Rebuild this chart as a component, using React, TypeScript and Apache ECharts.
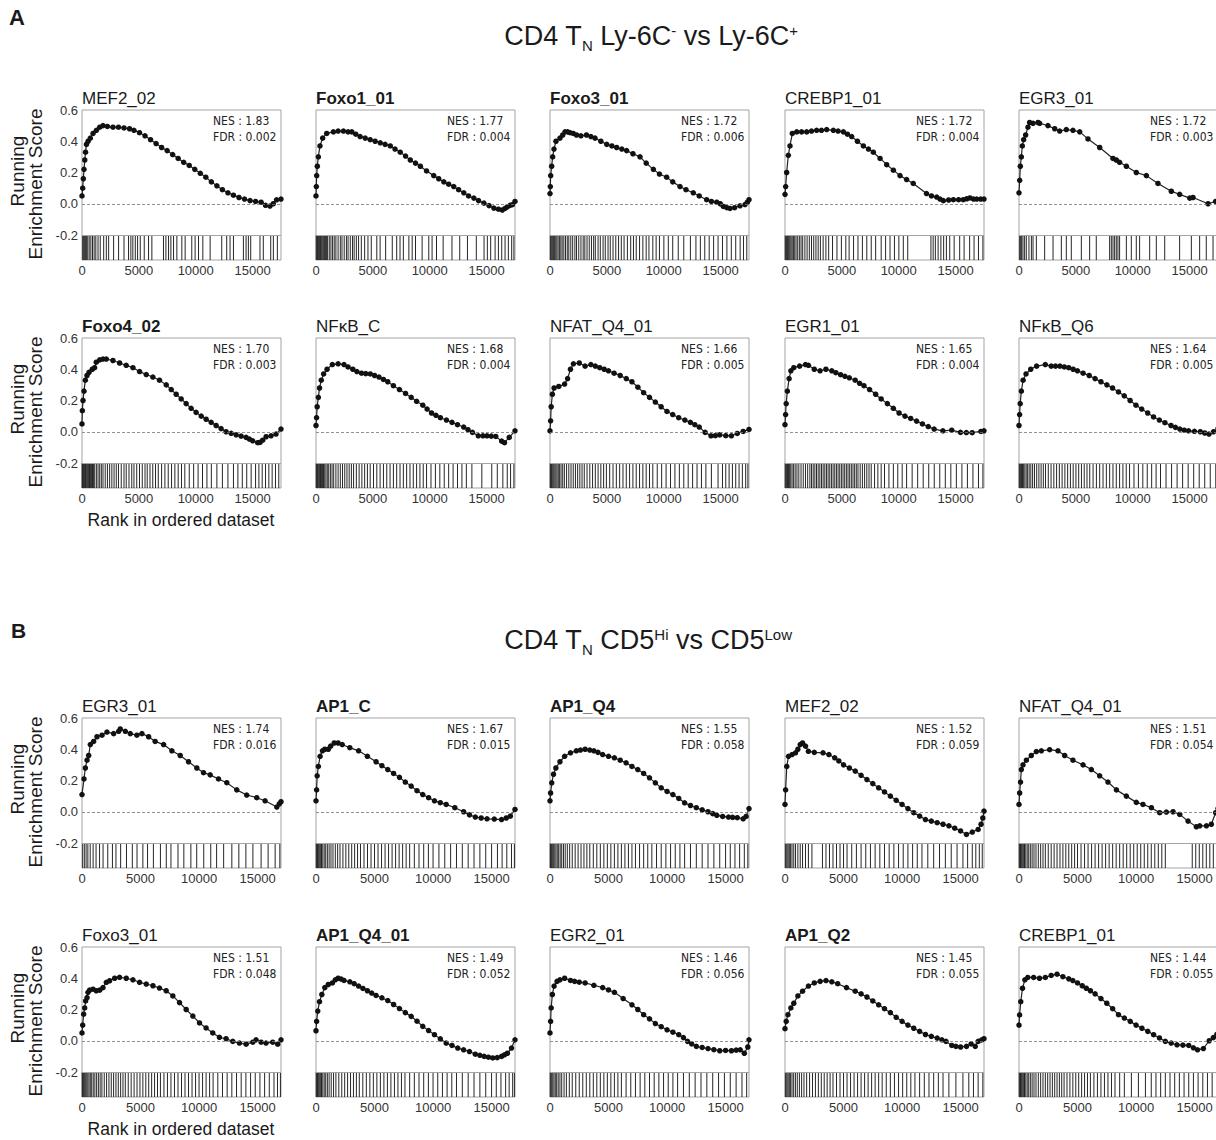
import React, { useEffect, useRef } from "react";
import * as echarts from "echarts";

const FONT = '"Liberation Sans", Arial, Helvetica, sans-serif';
const NARROW = '"Liberation Sans Narrow", "Arial Narrow", "DejaVu Sans Condensed", sans-serif';

// ---------- panel meta ----------
const panelTitles = [
  "MEF2_02", "Foxo1_01", "Foxo3_01", "CREBP1_01", "EGR3_01",
  "Foxo4_02", "NFκB_C", "NFAT_Q4_01", "EGR1_01", "NFκB_Q6",
  "EGR3_01", "AP1_C", "AP1_Q4", "MEF2_02", "NFAT_Q4_01",
  "Foxo3_01", "AP1_Q4_01", "EGR2_01", "AP1_Q2", "CREBP1_01",
];
const panelBold = [
  false, true, true, false, false,
  true, false, false, false, false,
  false, true, true, false, false,
  false, true, false, true, false,
];
const nesValues = [
  "1.83", "1.77", "1.72", "1.72", "1.72",
  "1.70", "1.68", "1.66", "1.65", "1.64",
  "1.74", "1.67", "1.55", "1.52", "1.51",
  "1.51", "1.49", "1.46", "1.45", "1.44",
];
const fdrValues = [
  "0.002", "0.004", "0.006", "0.004", "0.003",
  "0.003", "0.004", "0.005", "0.004", "0.005",
  "0.016", "0.015", "0.058", "0.059", "0.054",
  "0.048", "0.052", "0.056", "0.055", "0.055",
];
const rankMaxA = 17500;
const rankMaxB = 17000;
const xTickValues = [0, 5000, 10000, 15000];
const yTickValues = [-0.2, 0, 0.2, 0.4, 0.6];

// ---------- running enrichment score curves [rank, ES] ----------
const mef2A = [[0,0.05],[58,0.10],[117,0.16],[175,0.22],[243,0.28],[311,0.33],[389,0.38],[535,0.40],[729,0.42],[972,0.45],[1264,0.47],[1556,0.49],[1847,0.50],[2236,0.495],[2722,0.49],[3208,0.49],[3694,0.485],[4181,0.48],[4569,0.47],[5056,0.455],[5542,0.435],[6028,0.41],[6514,0.385],[7000,0.36],[7486,0.34],[7972,0.315],[8458,0.29],[8944,0.265],[9431,0.245],[9917,0.22],[10403,0.195],[10889,0.17],[11375,0.14],[11861,0.115],[12347,0.09],[12833,0.07],[13319,0.055],[13806,0.04],[14292,0.03],[14778,0.02],[15264,0.015],[15750,0.01],[16139,-0.01],[16528,-0.015],[16819,0.0],[17111,0.025],[17500,0.03]];
const foxo1A = [[0,0.05],[29,0.11],[58,0.18],[117,0.24],[204,0.30],[350,0.37],[583,0.42],[943,0.45],[1526,0.46],[1944,0.465],[2411,0.465],[2819,0.46],[3150,0.46],[3500,0.445],[3879,0.43],[4326,0.42],[4764,0.41],[5201,0.40],[5649,0.39],[6076,0.38],[6533,0.37],[6951,0.35],[7408,0.33],[7875,0.305],[8293,0.28],[8750,0.26],[9178,0.24],[9722,0.21],[10354,0.18],[10792,0.16],[11239,0.14],[11667,0.125],[12114,0.11],[12542,0.09],[12999,0.07],[13417,0.05],[13884,0.036],[14292,0.02],[14768,0.004],[15215,-0.012],[15643,-0.028],[16042,-0.035],[16382,-0.04],[16625,-0.03],[16819,-0.02],[17063,-0.01],[17267,-0.006],[17500,0.015]];
const foxo3A = [[0,0.065],[29,0.11],[58,0.18],[146,0.24],[233,0.30],[350,0.35],[525,0.40],[875,0.42],[1118,0.44],[1322,0.46],[1556,0.46],[1760,0.455],[2042,0.45],[2333,0.44],[2722,0.435],[3208,0.44],[3597,0.43],[3957,0.42],[4472,0.40],[4988,0.38],[5444,0.37],[5863,0.36],[6319,0.35],[6738,0.34],[7292,0.32],[7914,0.30],[8458,0.26],[9090,0.22],[9625,0.19],[10257,0.17],[10792,0.14],[11433,0.11],[11958,0.09],[12600,0.07],[13125,0.05],[13776,0.026],[14194,0.015],[14661,0.01],[14972,0.0],[15244,-0.017],[15556,-0.025],[15828,-0.03],[16236,-0.025],[16713,-0.013],[17150,-0.005],[17354,0.01],[17500,0.026]];
const crebpA = [[0,0.06],[58,0.11],[146,0.20],[292,0.31],[438,0.37],[642,0.45],[1031,0.46],[1458,0.46],[1906,0.46],[2333,0.465],[2781,0.47],[3208,0.47],[3665,0.475],[4249,0.47],[4667,0.465],[5133,0.46],[5493,0.445],[5863,0.43],[6368,0.40],[6893,0.37],[7340,0.35],[7768,0.33],[8361,0.29],[8944,0.25],[9528,0.215],[10111,0.18],[10694,0.155],[11278,0.13],[12444,0.065],[12882,0.05],[13339,0.043],[13631,0.03],[13922,0.02],[14389,0.024],[14807,0.026],[15264,0.026],[15682,0.026],[15993,0.032],[16265,0.037],[16576,0.03],[16858,0.03],[17208,0.03],[17500,0.03]];
const egr3A = [[0,0.07],[58,0.15],[117,0.24],[204,0.30],[292,0.37],[408,0.41],[583,0.44],[788,0.49],[933,0.52],[1235,0.515],[1672,0.52],[1818,0.515],[2547,0.50],[3140,0.48],[3578,0.465],[4161,0.475],[4744,0.47],[5337,0.46],[6067,0.415],[7097,0.36],[8264,0.29],[8556,0.28],[8847,0.265],[9440,0.24],[10315,0.20],[11200,0.18],[12221,0.13],[13397,0.08],[14126,0.06],[15011,0.036],[15303,0.04],[16625,0.0],[17296,0.015]];
const foxo4A = [[0,0.05],[29,0.135],[88,0.20],[175,0.26],[292,0.33],[438,0.36],[613,0.38],[904,0.40],[1108,0.41],[1254,0.445],[1556,0.46],[1847,0.465],[2139,0.465],[2722,0.456],[3306,0.44],[3889,0.425],[4482,0.41],[5065,0.385],[5649,0.366],[6232,0.35],[6815,0.33],[7408,0.30],[7846,0.27],[8283,0.24],[8721,0.21],[9158,0.18],[9596,0.15],[10033,0.124],[10481,0.10],[10918,0.08],[11356,0.06],[11793,0.04],[12231,0.02],[12668,0.0],[13115,-0.01],[13553,-0.02],[13990,-0.028],[14428,-0.036],[14719,-0.047],[15011,-0.058],[15449,-0.07],[15653,-0.068],[15886,-0.054],[16188,-0.032],[16625,-0.026],[17063,-0.015],[17500,0.017]];
const nfkbcA = [[0,0.04],[49,0.09],[102,0.16],[204,0.22],[311,0.28],[462,0.33],[671,0.37],[972,0.40],[1439,0.43],[1944,0.435],[2460,0.43],[2819,0.415],[3238,0.40],[3597,0.385],[4006,0.375],[4375,0.372],[4774,0.37],[5153,0.36],[5542,0.35],[5931,0.335],[6310,0.32],[6806,0.295],[7340,0.27],[7875,0.245],[8371,0.22],[8847,0.195],[9392,0.17],[9771,0.145],[10160,0.12],[10549,0.105],[10938,0.09],[11472,0.075],[11958,0.06],[12444,0.045],[12989,0.03],[13368,0.013],[13757,-0.004],[14272,-0.026],[14681,-0.026],[15040,-0.026],[15410,-0.028],[15808,-0.03],[16323,-0.06],[16576,-0.07],[16994,-0.036],[17500,0.006]];
const nfatA = [[0,0.006],[52,0.07],[103,0.16],[206,0.24],[360,0.28],[772,0.29],[1283,0.305],[1546,0.34],[1799,0.40],[2061,0.435],[2576,0.44],[3082,0.42],[3597,0.43],[3986,0.42],[4375,0.41],[4764,0.40],[5143,0.39],[5639,0.375],[6174,0.36],[6708,0.34],[7204,0.32],[7729,0.285],[8235,0.25],[8750,0.22],[9265,0.19],[9771,0.16],[10286,0.13],[10792,0.11],[11317,0.09],[11861,0.075],[12347,0.06],[12736,0.045],[13125,0.03],[13640,-0.004],[14156,-0.026],[14535,-0.025],[14924,-0.02],[15458,-0.025],[15954,-0.026],[16469,-0.011],[16985,0.002],[17500,0.015]];
const egr1A = [[0,0.045],[52,0.11],[103,0.18],[206,0.26],[360,0.34],[515,0.39],[772,0.41],[1283,0.42],[1799,0.43],[2061,0.425],[2576,0.40],[3082,0.39],[3597,0.40],[4113,0.39],[4472,0.378],[4890,0.365],[5269,0.355],[5658,0.345],[6174,0.33],[6563,0.31],[6942,0.295],[7438,0.27],[7972,0.24],[8458,0.21],[9003,0.18],[9528,0.15],[10033,0.12],[10549,0.10],[11054,0.085],[11569,0.068],[12085,0.05],[12600,0.033],[13115,0.017],[13883,0.006],[14661,0.01],[15429,-0.004],[15944,-0.005],[16460,-0.006],[17228,0.002],[17500,0.006]];
const nfkbq6A = [[0,0.04],[52,0.11],[103,0.18],[206,0.26],[360,0.33],[617,0.37],[1031,0.40],[1546,0.42],[2314,0.43],[2829,0.42],[3208,0.42],[3597,0.42],[3986,0.415],[4375,0.41],[4764,0.40],[5143,0.39],[5639,0.375],[6174,0.36],[6689,0.34],[7204,0.32],[7729,0.30],[8225,0.28],[8750,0.255],[9256,0.23],[9771,0.20],[10286,0.17],[10792,0.145],[11317,0.12],[11832,0.095],[12347,0.075],[12833,0.058],[13368,0.04],[13757,0.028],[14146,0.017],[14535,0.01],[14914,0.006],[15429,0.003],[15944,0.0],[16333,-0.008],[16713,-0.015],[17111,0.0],[17500,0.02]];
const egr3B = [[0,0.11],[170,0.21],[284,0.28],[430,0.33],[570,0.36],[710,0.43],[995,0.45],[1280,0.48],[1710,0.49],[2130,0.51],[2700,0.50],[3130,0.515],[3270,0.53],[3700,0.515],[4120,0.50],[4690,0.49],[5120,0.50],[5690,0.48],[6250,0.45],[6970,0.43],[7680,0.39],[8390,0.36],[9100,0.32],[9810,0.28],[10380,0.25],[10950,0.236],[11660,0.21],[12370,0.186],[13220,0.14],[14070,0.107],[14930,0.09],[15640,0.07],[16640,0.03],[16850,0.05],[17000,0.064]];
const ap1cB = [[0,0.07],[50,0.14],[100,0.23],[200,0.29],[350,0.355],[550,0.39],[750,0.40],[1050,0.40],[1250,0.42],[1550,0.44],[1890,0.44],[2240,0.43],[2890,0.41],[3640,0.39],[4390,0.355],[5130,0.32],[5630,0.295],[6130,0.27],[6630,0.245],[7130,0.22],[7630,0.19],[8130,0.164],[8630,0.135],[9120,0.11],[9620,0.09],[10120,0.07],[10620,0.058],[11120,0.047],[11860,0.026],[12610,0.0],[13110,-0.02],[13610,-0.034],[14110,-0.04],[14610,-0.045],[15230,-0.047],[15850,-0.05],[16250,-0.04],[16600,-0.028],[17000,0.015]];
const ap1q4B = [[0,0.07],[50,0.12],[150,0.185],[300,0.24],[500,0.28],[850,0.32],[1250,0.355],[1750,0.377],[2250,0.39],[2600,0.395],[3000,0.40],[3400,0.395],[3750,0.39],[4100,0.38],[4500,0.366],[5000,0.355],[5500,0.345],[6000,0.33],[6500,0.313],[7000,0.29],[7500,0.27],[8000,0.245],[8500,0.217],[9000,0.185],[9500,0.153],[10000,0.13],[10500,0.11],[11000,0.085],[11500,0.057],[12000,0.04],[12500,0.026],[13000,0.012],[13500,0.0],[13900,-0.012],[14250,-0.023],[14750,-0.03],[15250,-0.034],[15600,-0.036],[16000,-0.038],[16500,-0.045],[16750,-0.03],[17000,0.02]];
const mef2B = [[0,0.047],[50,0.14],[150,0.29],[300,0.355],[600,0.366],[900,0.377],[1100,0.40],[1300,0.43],[1500,0.44],[1750,0.42],[2000,0.387],[2500,0.38],[3250,0.377],[3750,0.366],[4250,0.345],[4600,0.325],[5000,0.30],[5500,0.28],[6000,0.26],[6500,0.233],[7000,0.206],[7500,0.18],[8000,0.153],[8500,0.127],[9000,0.10],[9500,0.073],[10000,0.047],[10500,0.02],[11000,-0.006],[11500,-0.028],[12000,-0.05],[12500,-0.06],[13000,-0.07],[13500,-0.08],[14000,-0.09],[14500,-0.105],[15000,-0.123],[15500,-0.145],[16000,-0.13],[16500,-0.113],[16750,-0.08],[16900,-0.04],[17000,0.004]];
const nfatB = [[0,0.047],[57,0.12],[130,0.19],[200,0.27],[340,0.30],[630,0.33],[1050,0.36],[1480,0.385],[1910,0.39],[2620,0.397],[3330,0.39],[3900,0.36],[4610,0.33],[5470,0.30],[6180,0.27],[6890,0.23],[7600,0.19],[8320,0.14],[9170,0.10],[10020,0.06],[10590,0.047],[11310,0.026],[12020,-0.006],[12590,-0.002],[13160,0.0],[13730,-0.017],[14440,-0.06],[15150,-0.096],[15440,-0.09],[16010,-0.09],[16430,-0.08],[16800,-0.006],[17000,0.02]];
const foxo3B = [[0,0.05],[57,0.10],[140,0.17],[230,0.21],[310,0.255],[430,0.276],[510,0.31],[650,0.324],[940,0.33],[1220,0.32],[1510,0.324],[1790,0.34],[2080,0.374],[2360,0.384],[2790,0.40],[3210,0.406],[3780,0.40],[4350,0.39],[4920,0.374],[5490,0.363],[6060,0.352],[6620,0.337],[7190,0.32],[7760,0.287],[8330,0.244],[8900,0.20],[9470,0.158],[10040,0.114],[10600,0.082],[11170,0.05],[11740,0.022],[12310,0.013],[12880,-0.004],[13450,-0.015],[14020,-0.022],[14590,-0.009],[14870,0.006],[15300,-0.009],[15720,-0.015],[16290,-0.009],[16720,-0.022],[17000,0.006]];
const ap1q401B = [[0,0.064],[50,0.124],[150,0.19],[300,0.25],[500,0.296],[750,0.34],[1050,0.36],[1400,0.37],[1650,0.39],[1890,0.40],[2150,0.395],[2390,0.386],[2890,0.377],[3260,0.365],[3640,0.35],[4010,0.335],[4390,0.32],[4760,0.305],[5130,0.29],[5630,0.275],[6130,0.257],[6630,0.232],[7130,0.206],[7630,0.18],[8130,0.156],[8630,0.125],[9120,0.092],[9620,0.065],[10120,0.039],[10620,0.012],[11120,-0.015],[11620,-0.03],[12110,-0.047],[12610,-0.058],[13110,-0.069],[13610,-0.086],[14000,-0.093],[14360,-0.10],[14730,-0.105],[15100,-0.11],[15480,-0.108],[15850,-0.10],[16100,-0.09],[16350,-0.08],[16700,-0.047],[17000,0.006]];
const egr2B = [[0,0.05],[50,0.124],[100,0.21],[200,0.296],[350,0.35],[600,0.38],[850,0.39],[1250,0.40],[1750,0.386],[2100,0.38],[2500,0.375],[3000,0.37],[3750,0.355],[4500,0.34],[5000,0.325],[5500,0.31],[6250,0.27],[7000,0.23],[7500,0.20],[8000,0.167],[8500,0.14],[9000,0.11],[9500,0.09],[10000,0.07],[10500,0.055],[11000,0.039],[11400,0.02],[11750,-0.004],[12100,-0.02],[12500,-0.036],[13000,-0.043],[13500,-0.05],[14000,-0.057],[14500,-0.064],[15000,-0.062],[15500,-0.064],[15900,-0.06],[16250,-0.058],[16600,-0.08],[16900,-0.04],[17000,0.006]];
const ap1q2B = [[0,0.077],[100,0.124],[250,0.167],[500,0.21],[750,0.24],[1100,0.287],[1500,0.317],[2000,0.35],[2500,0.37],[3000,0.38],[3500,0.385],[4000,0.377],[4500,0.365],[5250,0.34],[6000,0.317],[6500,0.30],[7000,0.28],[7500,0.255],[8000,0.23],[8500,0.205],[9000,0.18],[9500,0.15],[10000,0.124],[10500,0.10],[11000,0.08],[11500,0.06],[12000,0.04],[12500,0.028],[13000,0.017],[13400,0.006],[13750,-0.004],[14250,-0.03],[14600,-0.036],[15000,-0.04],[15500,-0.036],[15900,-0.02],[16250,-0.036],[16500,-0.004],[16800,0.005],[17000,0.013]];
const crebpB = [[0,0.10],[50,0.165],[150,0.25],[300,0.336],[500,0.39],[750,0.405],[1250,0.405],[1750,0.40],[2250,0.405],[2750,0.418],[3250,0.426],[3750,0.41],[4250,0.396],[4600,0.385],[5000,0.37],[5400,0.352],[5750,0.336],[6100,0.32],[6500,0.30],[7000,0.27],[7500,0.24],[8000,0.205],[8500,0.167],[9000,0.145],[9500,0.124],[10000,0.10],[10500,0.08],[11000,0.06],[11500,0.039],[12000,0.018],[12500,-0.004],[13000,-0.015],[13500,-0.026],[14000,-0.028],[14500,-0.03],[14900,-0.045],[15250,-0.058],[15750,-0.05],[16250,0.0],[16600,0.02],[16900,0.04]];

// ---------- gene-set hit positions (barcode ranks) ----------
const mef2AHits = [58,146,233,321,408,506,632,778,924,1069,1215,1410,1604,1906,2139,2343,2781,3218,3694,4093,4297,4472,4686,4890,5124,5474,5853,6144,7165,7379,7612,7817,8050,8342,8779,9071,9654,9946,10247,10626,11268,12289,12726,13018,13319,14194,14428,14632,14836,15653,15944,16596,16829,17179];
const foxo1AHits = [19,78,136,194,253,321,389,457,525,603,681,758,846,933,1021,1167,1313,1458,1604,1750,1944,2139,2285,2479,2674,2819,3014,3208,3354,3549,3743,3986,4278,4569,4861,5347,5639,6125,6708,7097,7389,7681,8167,8458,8750,9333,9917,10208,10597,11181,11958,12639,13319,14097,14778,15069,15361,15750,16042,16333,16625,16917,17208,17403];
const foxo3AHits = [29,97,165,243,321,408,506,603,710,826,953,1069,1215,1361,1517,1653,1828,1993,2188,2333,2528,2722,2917,3063,3257,3451,3646,3840,3986,4229,4424,4667,4861,5104,5299,5542,5785,6028,6271,6514,6806,7097,7340,7583,7875,8167,8458,8701,9042,9333,9625,10014,10403,10792,11278,11764,12347,12833,13222,13611,14000,14389,14778,15167,15556,15944,16333,16722,17014,17306];
const crebpAHits = [19,78,146,214,292,369,447,535,632,739,856,972,1118,1264,1410,1556,1750,1944,2139,2333,2528,2722,2917,3111,3354,3597,3840,4181,4569,4958,5347,5639,6028,6417,6806,7194,7583,7972,8458,8847,9236,9625,10014,10403,10792,12833,13028,13222,13465,13708,13951,14194,14486,14875,15361,15750,16236,16625,17014,17403];
const egr3AHits = [58,146,233,350,496,642,875,1089,1235,1526,2256,2994,3724,4161,4599,5483,6213,6796,7972,8118,8264,8410,8556,8701,8847,9440,9878,10315,10607,11492,12075,12814,14126,15157,15886,16469,17063];
const foxo4AHits = [10,49,97,146,194,253,311,369,438,506,583,661,739,826,924,1021,1118,1264,1410,1556,1701,1847,2042,2236,2431,2625,2819,3014,3208,3451,3694,3889,4132,4375,4569,4813,5056,5299,5542,5736,5979,6222,6465,6708,7000,7292,7583,7875,8167,8458,8750,9042,9431,9819,10208,10597,10986,11375,11861,12347,12833,13319,13708,14097,14486,14875,15264,15556,15847,16139,16431,16722,17014,17306];
const nfkbcAHits = [19,68,126,185,253,321,399,476,564,661,768,875,992,1118,1264,1410,1556,1750,1944,2139,2333,2528,2722,2917,3111,3306,3549,3792,4035,4278,4521,4764,5056,5347,5639,5931,6222,6514,6806,7097,7389,7681,7972,8264,8556,8847,9139,9431,9722,10111,10500,10889,11278,11667,12056,12444,12833,13222,13708,14583,15458,15944,16431,16819,17111,17403];
const nfatAHits = [19,68,126,194,272,350,438,525,622,729,846,972,1118,1264,1458,1653,1847,2042,2236,2431,2625,2819,3014,3257,3500,3743,3986,4229,4472,4715,4958,5250,5542,5833,6125,6417,6708,7000,7292,7583,7875,8167,8458,8750,9042,9431,9819,10208,10597,10986,11375,11764,12153,12542,12931,13319,13708,14194,14778,15167,15458,15750,16042,16333,16625,16917,17208,17403];
const egr1AHits = [19,78,146,224,311,408,506,622,758,894,1050,1215,1410,1604,1799,1993,2188,2333,2479,2625,2771,2917,3063,3208,3354,3500,3646,3792,3938,4083,4229,4375,4521,4667,4813,4958,5104,5250,5396,5542,5688,5833,5979,6125,6271,6417,6611,6806,7000,7194,7389,7583,7875,8167,8458,8750,9139,9528,9917,10306,10694,11181,11667,12153,12639,13125,13611,14097,14583,15069,15556,16042,16528,17014,17403];
const nfkbq6AHits = [19,78,146,224,311,408,515,632,758,894,1040,1196,1361,1556,1750,1944,2139,2333,2576,2819,3063,3306,3549,3792,4035,4278,4521,4764,5007,5250,5493,5736,5979,6222,6514,6806,7097,7389,7681,7972,8264,8556,8847,9139,9431,9722,10111,10500,10889,11278,11667,12056,12444,12931,13417,13903,14389,14875,15361,15847,16333,16819,17306];
const egr3BHits = [60,200,350,500,700,950,1200,1500,1800,2200,2600,2900,3300,3800,4300,4700,5200,5600,6100,6700,7200,7600,8200,8700,9300,9800,10400,11000,11500,12100,12800,13400,14000,14600,15300,15900,16500,16900];
const ap1cBHits = [20,70,130,200,280,370,470,580,700,830,970,1120,1280,1450,1650,1850,2050,2300,2550,2800,3050,3300,3550,3800,4100,4400,4700,5000,5300,5600,5900,6200,6500,6800,7100,7400,7700,8000,8400,8800,9200,9600,10000,10500,11000,11500,12000,12500,13000,13500,14000,14500,15000,15500,15900,16300,16700,16950];
const ap1q4BHits = [20,60,110,170,240,320,410,510,620,740,870,1000,1150,1300,1480,1680,1900,2150,2400,2650,2900,3150,3400,3700,4000,4300,4600,4900,5200,5500,5800,6100,6400,6700,7000,7300,7650,8000,8350,8700,9100,9500,9900,10300,10700,11100,11500,12000,12500,13000,13500,14000,14500,15000,15400,15800,16200,16600,16900];
const mef2BHits = [30,100,180,270,370,480,600,750,900,1100,1300,1500,1750,2000,2300,3200,3500,3800,4100,4400,4700,5000,5300,5700,6100,6500,6900,7300,7700,8100,8500,8900,9300,9700,10100,10500,10900,11300,11700,12200,12700,13200,13700,14200,14700,15200,15600,16000,16300,16600,16850];
const nfatBHits = [20,70,130,200,280,370,470,580,700,830,970,1120,1280,1450,1650,1850,2050,2250,2500,2750,3000,3250,3500,3750,4000,4250,4500,4750,5000,5300,5600,5900,6200,6500,6800,7100,7400,7700,8000,8300,8600,8900,9200,9500,9800,10100,10400,10700,11000,11300,11600,11900,12200,12500,14800,15100,15400,15700,16000,16300,16600,16900];
const foxo3BHits = [20,60,110,170,240,320,410,500,600,710,830,960,1100,1250,1400,1550,1700,1900,2100,2300,2500,2700,2900,3100,3300,3500,3700,3950,4200,4450,4700,4950,5200,5450,5700,5950,6200,6450,6700,7000,7300,7600,7900,8200,8500,8800,9100,9400,9700,10000,10300,10600,10900,11200,11600,12000,12400,12800,13200,13600,14000,14400,14800,15200,15600,16000,16400,16700,16950];
const ap1q401BHits = [20,70,130,200,280,370,470,580,700,830,970,1120,1300,1500,1700,1950,2200,2450,2700,2950,3200,3450,3700,4000,4300,4600,4900,5200,5500,5800,6100,6400,6700,7000,7300,7600,8000,8400,8800,9200,9600,10000,10400,10800,11200,11600,12000,12500,13000,13500,14000,14500,15000,15400,15800,16200,16500,16800,16950];
const egr2BHits = [20,80,150,240,340,450,570,700,850,1000,1200,1400,1650,1900,2200,2500,2800,3100,3400,3700,4000,4300,4600,4900,5200,5500,5800,6100,6500,6900,7300,7700,8100,8500,8900,9300,9700,10100,10500,10900,11400,11900,12400,12900,13400,13900,14400,14900,15400,15900,16400,16800];
const ap1q2BHits = [30,100,180,270,370,480,600,740,890,1050,1230,1420,1620,1850,2100,2350,2600,2850,3100,3350,3600,3850,4100,4400,4700,5000,5300,5600,5900,6200,6500,6800,7100,7400,7700,8000,8300,8650,9000,9350,9700,10050,10400,10750,11100,11500,11900,12300,12700,13100,13500,14000,14600,15200,15700,16100,16500,16900];
const crebpBHits = [20,70,130,200,280,370,470,580,700,830,970,1120,1280,1450,1650,1850,2050,2250,2450,2650,2850,3050,3250,3450,3650,3850,4100,4350,4600,4850,5100,5350,5600,5850,6100,6400,6700,7000,7300,7600,7900,8200,8600,9000,9600,10200,10800,11300,11700,12100,12500,12900,13300,13700,14100,14500,14900,15300,15700,16100,16500,16900];

const curves = [
  mef2A, foxo1A, foxo3A, crebpA, egr3A,
  foxo4A, nfkbcA, nfatA, egr1A, nfkbq6A,
  egr3B, ap1cB, ap1q4B, mef2B, nfatB,
  foxo3B, ap1q401B, egr2B, ap1q2B, crebpB,
];
const hits = [
  mef2AHits, foxo1AHits, foxo3AHits, crebpAHits, egr3AHits,
  foxo4AHits, nfkbcAHits, nfatAHits, egr1AHits, nfkbq6AHits,
  egr3BHits, ap1cBHits, ap1q4BHits, mef2BHits, nfatBHits,
  foxo3BHits, ap1q401BHits, egr2BHits, ap1q2BHits, crebpBHits,
];

// ---------- layout ----------
const COL_LEFT = [82, 316, 550, 785, 1019];
const ROW_TOP = [110, 338, 718, 947];
const PW = 199;
const PH = 150;
const Y_MIN = -0.36;
const Y_MAX = 0.6;
const BAR_TOP = -0.2;
const TEXT = "#1a1a1a";

function buildOption() {
  const grid: any[] = [];
  const xAxis: any[] = [];
  const yAxis: any[] = [];
  const series: any[] = [];
  const graphic: any[] = [];

  const txt = (x: number, y: number, text: string, size: number, extra: any = {}, elExtra: any = {}) => ({
    type: "text",
    x,
    y,
    silent: true,
    ...elExtra,
    style: {
      text,
      fontSize: size,
      fontFamily: FONT,
      fill: TEXT,
      align: "left",
      verticalAlign: "middle",
      textAlign: "left",
      textVerticalAlign: "middle",
      ...extra,
    },
  });

  for (let i = 0; i < 20; i++) {
    const r = Math.floor(i / 5);
    const c = i % 5;
    const left = COL_LEFT[c];
    const top = ROW_TOP[r];
    const N = r < 2 ? rankMaxA : rankMaxB;
    grid.push({
      left, top, width: PW, height: PH,
      show: true, borderColor: "#a3a3a3", borderWidth: 1,
      backgroundColor: "rgba(0,0,0,0)", containLabel: false, outerBoundsMode: "none",
    });
    xAxis.push({
      gridIndex: i, type: "value", min: 0, max: N,
      axisLine: { show: false }, axisTick: { show: false }, splitLine: { show: false },
      axisLabel: {
        customValues: xTickValues, formatter: (v: number) => String(Math.round(v)),
        fontSize: 13, color: "#333", margin: 4, fontFamily: FONT,
      },
    });
    yAxis.push({
      gridIndex: i, type: "value", min: Y_MIN, max: Y_MAX,
      axisLine: { show: false }, axisTick: { show: false }, splitLine: { show: false },
      axisLabel: {
        show: c === 0, customValues: yTickValues,
        formatter: (v: number) => v.toFixed(1),
        fontSize: 13, color: "#333", margin: 4, fontFamily: FONT,
      },
    });
    series.push({
      type: "custom",
      xAxisIndex: i, yAxisIndex: i,
      silent: true, z: 1,
      data: hits[i].map((h) => [h, BAR_TOP]),
      encode: { x: 0, y: 1 },
      renderItem: (_p: any, api: any) => {
        const x = api.value(0);
        const p1 = api.coord([x, BAR_TOP]);
        const p2 = api.coord([x, Y_MIN]);
        return {
          type: "line",
          shape: { x1: p1[0], y1: p1[1], x2: p2[0], y2: p2[1] },
          style: { stroke: "#262626", lineWidth: 1 },
        };
      },
    });
    series.push({
      type: "line",
      xAxisIndex: i, yAxisIndex: i,
      data: curves[i],
      symbol: "circle", symbolSize: 5.5, showSymbol: true, clip: false,
      itemStyle: { color: "#111" },
      lineStyle: { color: "#222", width: 1.2 },
      silent: true, z: 3,
      markLine: {
        silent: true, symbol: ["none", "none"], label: { show: false },
        data: [
          { yAxis: 0, lineStyle: { type: [3, 2], color: "#777", width: 0.8 } },
          { yAxis: BAR_TOP, lineStyle: { type: "solid", color: "#a3a3a3", width: 1 } },
        ],
      },
    });

    graphic.push(txt(left, top - 12, panelTitles[i], 17, { fontWeight: panelBold[i] ? "bold" : "normal" }));
    graphic.push(txt(left + 131, top + 11, `NES : ${nesValues[i]}`, 12, { fontFamily: NARROW, fill: "#222" }));
    graphic.push(txt(left + 131, top + 27, `FDR : ${fdrValues[i]}`, 12, { fontFamily: NARROW, fill: "#222" }));

    if (c === 0) {
      graphic.push(txt(17, top + 61, "Running", 19, { align: "center", textAlign: "center" }, { rotation: Math.PI / 2 }));
      graphic.push(txt(35, top + 74, "Enrichment Score", 19, { align: "center", textAlign: "center" }, { rotation: Math.PI / 2 }));
      if (r === 1 || r === 3) {
        graphic.push(txt(181, top + 182, "Rank in ordered dataset", 17.5, { align: "center", textAlign: "center" }));
      }
    }
  }

  graphic.push(txt(9, 17, "A", 22, { fontWeight: "bold" }));
  graphic.push(txt(11, 630, "B", 21, { fontWeight: "bold" }));

  const rich = {
    m: { fontSize: 27, fontFamily: FONT, fill: TEXT, lineHeight: 34 },
    sub: { fontSize: 15, fontFamily: FONT, fill: TEXT, lineHeight: 16, verticalAlign: "bottom" },
    sup: { fontSize: 15, fontFamily: FONT, fill: TEXT, lineHeight: 16, verticalAlign: "top", padding: [4, 0, 0, 0] },
  };
  graphic.push({
    type: "text", x: 651, y: 36, silent: true,
    style: {
      text: "{m|CD4 T}{sub|N}{m| Ly-6C}{sup|-}{m| vs Ly-6C}{sup|+}",
      rich, align: "center", verticalAlign: "middle", textAlign: "center", textVerticalAlign: "middle",
    },
  });
  graphic.push({
    type: "text", x: 648, y: 640, silent: true,
    style: {
      text: "{m|CD4 T}{sub|N}{m| CD5}{sup|Hi}{m| vs CD5}{sup|Low}",
      rich, align: "center", verticalAlign: "middle", textAlign: "center", textVerticalAlign: "middle",
    },
  });

  return {
    animation: false,
    backgroundColor: "#ffffff",
    grid, xAxis, yAxis, series, graphic,
  };
}

export default function App() {
  const ref = useRef<HTMLDivElement>(null);
  useEffect(() => {
    document.body.style.margin = "0";
    document.body.style.overflow = "hidden";
    if (!ref.current) return;
    const chart = echarts.init(ref.current, undefined, { renderer: "svg" });
    chart.setOption(buildOption() as any);
    return () => chart.dispose();
  }, []);
  return <div ref={ref} style={{ width: 1216, height: 1140 }} />;
}
